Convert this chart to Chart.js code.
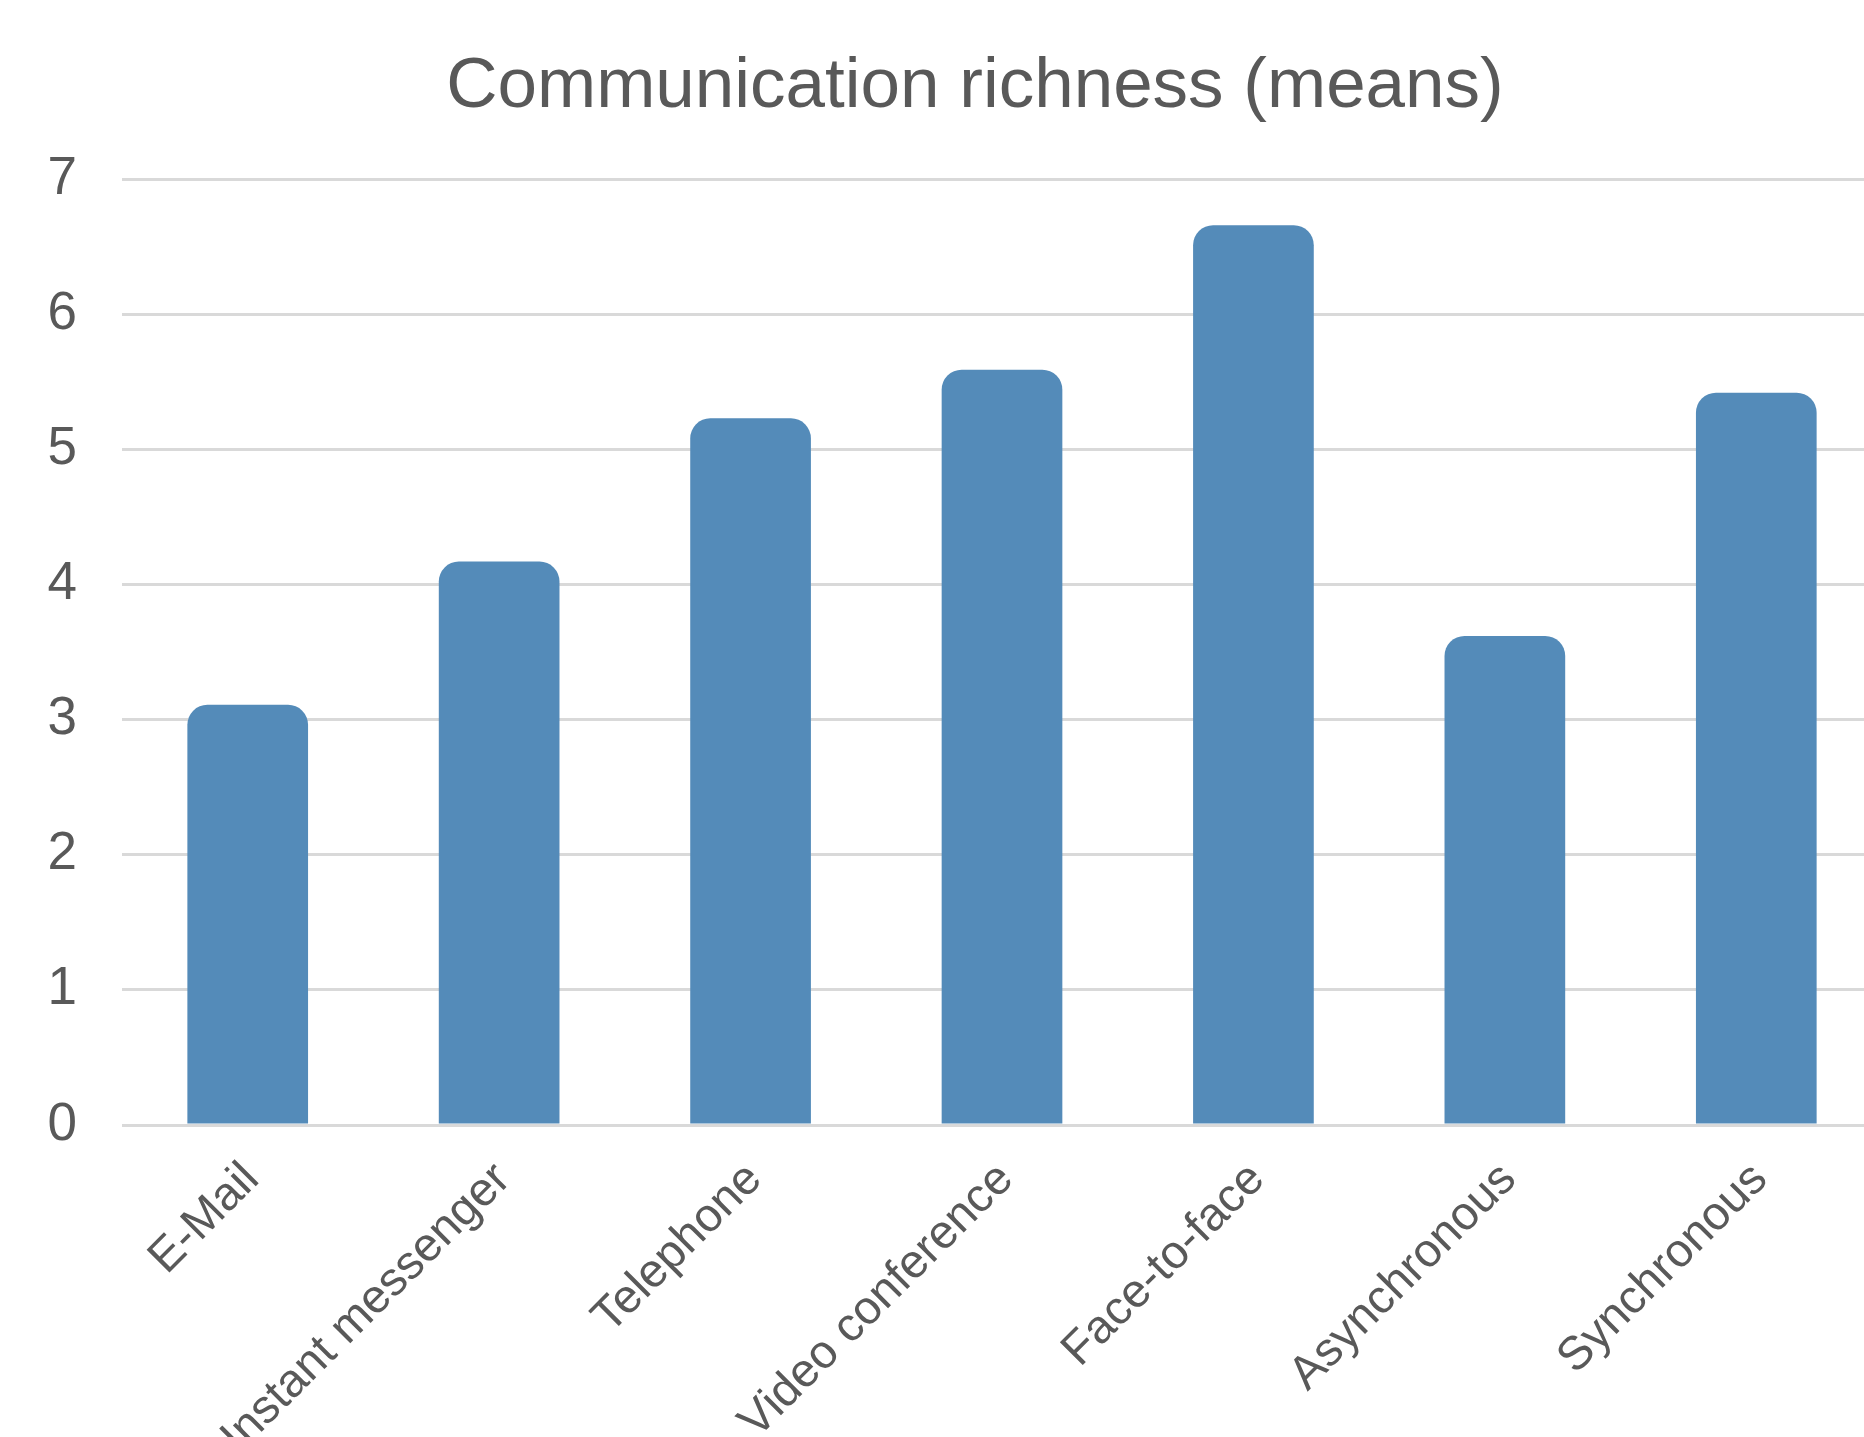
<!DOCTYPE html>
<html>
<head>
<meta charset="utf-8">
<script src="https://cdn.jsdelivr.net/npm/chart.js@4/dist/chart.umd.min.js"></script>
<style>
  html, body { margin: 0; padding: 0; background: #ffffff; overflow: hidden; }
  #wrap { position: absolute; left: 0; top: 0; width: 1950px; height: 1437px; }
</style>
</head>
<body>
<div id="wrap"><canvas id="c" width="1950" height="1437"></canvas></div>
<script>
const chartTitle = "Communication richness (means)";
const categories = ["E-Mail", "Instant messenger", "Telephone", "Video conference", "Face-to-face", "Asynchronous", "Synchronous"];
const means = [3.11, 4.17, 5.23, 5.59, 6.66, 3.62, 5.42];
const yTicks = [0, 1, 2, 3, 4, 5, 6, 7];

const textColor = "#595959";
const fontFamily = "'Liberation Sans', Arial, sans-serif";

new Chart(document.getElementById("c"), {
  type: "bar",
  data: {
    labels: categories,
    datasets: [{
      label: chartTitle,
      data: means,
      backgroundColor: "#548bb9",
      borderWidth: 0,
      borderRadius: { topLeft: 20, topRight: 20, bottomLeft: 0, bottomRight: 0 },
      borderSkipped: "start",
      categoryPercentage: 1.0,
      barPercentage: 0.48,
      yAxisID: "y"
    }]
  },
  options: {
    responsive: false,
    animation: false,
    devicePixelRatio: 1,
    layout: { padding: { left: 0, right: 0, top: 0, bottom: 0 } },
    plugins: {
      legend: { display: false },
      tooltip: { enabled: false },
      title: {
        display: true,
        text: chartTitle,
        color: textColor,
        font: { family: fontFamily, size: 71, weight: "normal" },
        padding: { top: 45, bottom: 49 }
      }
    },
    scales: {
      x: {
        grid: { display: false, drawTicks: false },
        border: { display: false },
        ticks: {
          color: textColor,
          font: { family: fontFamily, size: 47 },
          minRotation: 45,
          maxRotation: 45,
          autoSkip: false,
          padding: 27,
          labelOffset: 4
        },
        afterFit: (scale) => { scale.height = 312; }
      },
      y: {
        position: "left",
        min: 0,
        max: 7,
        afterBuildTicks: (scale) => { scale.ticks = yTicks.map(v => ({ value: v })); },
        grid: { color: "#d9d9d9", lineWidth: 3, drawTicks: false },
        border: { display: false },
        ticks: {
          color: textColor,
          font: { family: fontFamily, size: 53 },
          padding: 45
        },
        afterFit: (scale) => { scale.width = 122; }
      },
      yPad: {
        position: "right",
        display: true,
        grid: { display: false, drawTicks: false },
        border: { display: false },
        ticks: { display: false },
        afterFit: (scale) => { scale.width = 68; }
      }
    }
  }
});
</script>
</body>
</html>
